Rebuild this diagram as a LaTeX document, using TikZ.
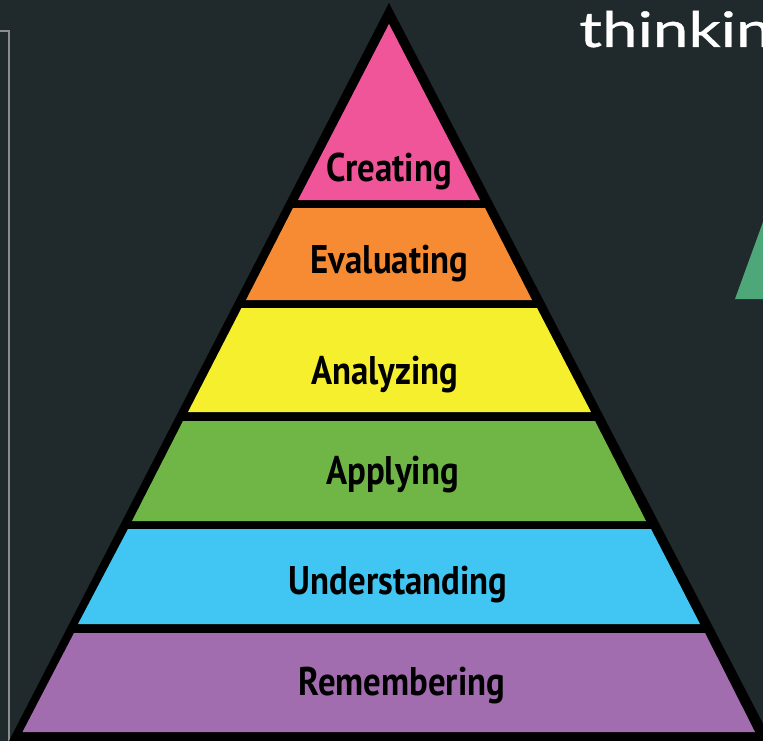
\documentclass[tikz,border=0pt]{standalone}
\usepackage{fontspec}
\setmainfont{PT Sans}
\newfontfamily\labelfont[FakeStretch=0.87]{PT Sans Bold}
\newfontfamily\brandfont[FakeStretch=1.3,FakeBold=0.7]{Lato}
\definecolor{slide}{HTML}{20292B}
\definecolor{framegray}{HTML}{8C8E8E}
\definecolor{brandgreen}{HTML}{4EA778}
\definecolor{pinklevel}{HTML}{F0559A}
\definecolor{orangelevel}{HTML}{F78B33}
\definecolor{yellowlevel}{HTML}{F6EF2D}
\definecolor{greenlevel}{HTML}{70B646}
\definecolor{bluelevel}{HTML}{41C6F4}
\definecolor{purplelevel}{HTML}{A26DAE}
\tikzset{
    level/.style={anchor=base, inner sep=0pt, text=black,
        font=\labelfont\fontsize{40}{42}\selectfont},
    brand/.style={anchor=base west, inner sep=0pt, text=white,
        font=\brandfont\fontsize{49}{50}\selectfont}
}
\begin{document}
\begin{tikzpicture}[x=1pt,y=-1pt]
        \fill[slide] (0,0) rectangle (763,741);
        \useasboundingbox (0,0) rectangle (763,741);
        % frame and corner of the slide
        \draw[framegray, line width=2pt] (0,31) -- (8.5,31) -- (8.5,741);
        \fill[brandgreen] (735,299) -- (763,222) -- (763,299) -- cycle;
        \node[brand] (brandtext) at (579,47) {thinkin};
        % pyramid
        \fill[black] (389,3) -- (9,741) -- (772,741) -- cycle;
        \fill[pinklevel] (389,24) -- (298,200) -- (480,200) -- cycle;
        \fill[orangelevel] (293,208) -- (485,208) -- (532,300) -- (246,300) -- cycle;
        \fill[yellowlevel] (241.5,308) -- (537,308) -- (591,412) -- (188,412) -- cycle;
        \fill[greenlevel] (183,421) -- (595,421) -- (646,521) -- (132,521) -- cycle;
        \fill[bluelevel] (128,529) -- (651,529) -- (700,624) -- (78,624) -- cycle;
        \fill[purplelevel] (74,633) -- (705,633) -- (755,732) -- (22.5,732) -- cycle;
        \node[level] (creating) at (389,181) {Creating};
        \node[level] (evaluating) at (389.5,273) {Evaluating};
        \node[level] (analyzing) at (385,384) {Analyzing};
        \node[level] (applying) at (392.5,484) {Applying};
        \node[level] (understanding) at (398,594) {Understanding};
        \node[level] (remembering) at (402,695) {Remembering};
    \end{tikzpicture}
\end{document}
